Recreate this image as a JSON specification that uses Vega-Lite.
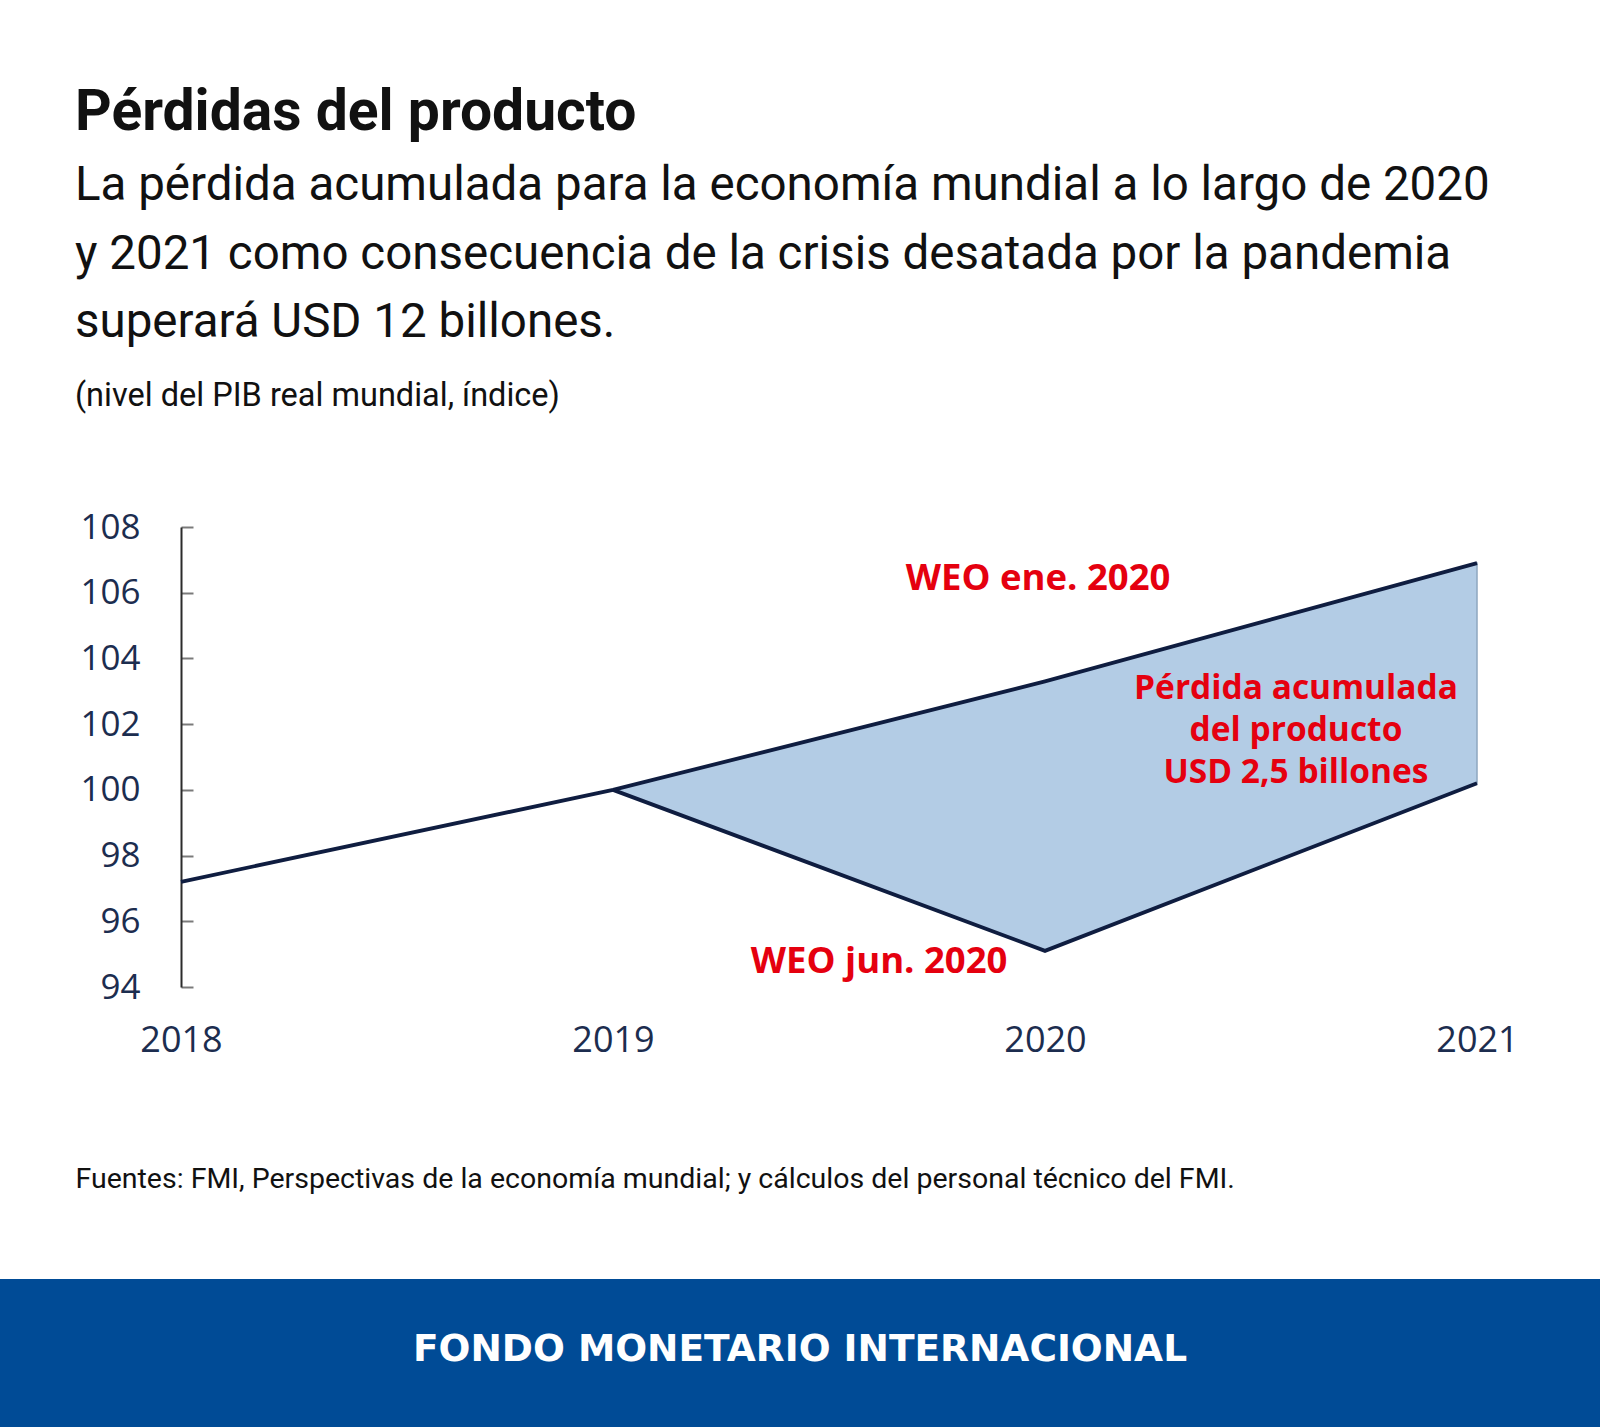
{
  "$schema": "https://vega.github.io/schema/vega-lite/v6.json",
  "background": "white",
  "padding": {"top": 84, "left": 0, "right": 0, "bottom": 0},
  "bounds": "flush",
  "spacing": 752,
  "datasets": {
    "indice_pib": [
      {"año": 2018, "pronostico": "ene", "indice": 97.2},
      {"año": 2019, "pronostico": "ene", "indice": 100},
      {"año": 2020, "pronostico": "ene", "indice": 103.3},
      {"año": 2021, "pronostico": "ene", "indice": 106.9},
      {"año": 2019, "pronostico": "jun", "indice": 100},
      {"año": 2020, "pronostico": "jun", "indice": 95.1},
      {"año": 2021, "pronostico": "jun", "indice": 100.2}
    ],
    "etiquetas_series": [
      {"año": 2019.984, "indice": 106.41, "texto": "WEO ene. 2020"},
      {"año": 2019.616, "indice": 94.77, "texto": "WEO jun. 2020"}
    ],
    "etiqueta_perdida": [
      {"año": 2020.581, "indice": 103.06, "texto": "Pérdida acumulada\ndel producto\nUSD 2,5 billones"}
    ],
    "pie": [
      {"organismo": "FONDO MONETARIO INTERNACIONAL"}
    ]
  },
  "title": {
    "text": "Pérdidas del producto",
    "subtitle": [
      "La pérdida acumulada para la economía mundial a lo largo de 2020",
      "y 2021 como consecuencia de la crisis desatada por la pandemia",
      "superará USD 12 billones."
    ],
    "anchor": "start",
    "frame": "group",
    "dx": 75,
    "offset": 31.5,
    "font": "Roboto",
    "fontSize": 57,
    "fontWeight": "bold",
    "color": "#111111",
    "subtitleFont": "Roboto",
    "subtitleFontSize": 47.5,
    "subtitleFontWeight": "normal",
    "subtitleColor": "#111111",
    "subtitleLineHeight": 68.7,
    "subtitlePadding": 20
  },
  "vconcat": [
    {
      "bounds": "flush",
      "spacing": 0,
      "hconcat": [
        {
          "width": 181,
          "height": 460,
          "data": {"values": []},
          "mark": {"type": "point", "opacity": 0},
          "view": {"stroke": null}
        },
        {
          "width": 1296,
          "height": 460,
          "title": {
            "text": "(nivel del PIB real mundial, índice)",
            "anchor": "start",
            "frame": "group",
            "dx": -106,
            "offset": 98,
            "font": "Roboto",
            "fontSize": 32.5,
            "fontWeight": "normal",
            "color": "#111111"
          },
          "view": {"stroke": null},
          "layer": [
            {
              "data": {"name": "indice_pib"},
              "transform": [
                {"pivot": "pronostico", "value": "indice", "groupby": ["año"]},
                {"filter": "isValid(datum.jun)"}
              ],
              "mark": {"type": "area", "color": "#b3cce5", "opacity": 1, "stroke": "#8ea6c0", "strokeWidth": 1.5},
              "encoding": {
                "x": {"field": "año", "type": "quantitative"},
                "y": {"field": "ene", "type": "quantitative"},
                "y2": {"field": "jun"}
              }
            },
            {
              "mark": {"type": "rule", "color": "#888888", "strokeWidth": 2.5, "opacity": 0.45},
              "encoding": {
                "y": {"datum": 100, "type": "quantitative"},
                "x": {"datum": 2018, "type": "quantitative"},
                "x2": {"datum": 2021}
              }
            },
            {
              "data": {"name": "indice_pib"},
              "mark": {"type": "line", "color": "#0f1d40", "strokeWidth": 3.8},
              "encoding": {
                "x": {
                  "field": "año",
                  "type": "quantitative",
                  "scale": {"domain": [2018, 2021], "nice": false, "zero": false},
                  "axis": {
                    "values": [2018, 2019, 2020, 2021],
                    "format": "d",
                    "domain": false,
                    "ticks": false,
                    "grid": false,
                    "labelFlush": false,
                    "labelOverlap": false,
                    "labelFont": "Open Sans",
                    "labelFontSize": 36,
                    "labelColor": "#1c2d4f",
                    "labelPadding": 36,
                    "title": "Fuentes: FMI, Perspectivas de la economía mundial; y cálculos del personal técnico del FMI.",
                    "titleFont": "Roboto",
                    "titleFontSize": 28.5,
                    "titleFontWeight": "normal",
                    "titleColor": "#111111",
                    "titleAnchor": "start",
                    "titleAlign": "left",
                    "titleBaseline": "alphabetic",
                    "titleX": -106,
                    "titleY": 200
                  }
                },
                "y": {
                  "field": "indice",
                  "type": "quantitative",
                  "scale": {"domain": [94, 108], "nice": false, "zero": false},
                  "axis": {
                    "values": [94, 96, 98, 100, 102, 104, 106, 108],
                    "title": null,
                    "grid": false,
                    "domainColor": "#2b2b2b",
                    "domainWidth": 2,
                    "tickColor": "#7a7a7a",
                    "tickWidth": 2,
                    "tickSize": -12,
                    "labelFlush": false,
                    "labelFont": "Open Sans",
                    "labelFontSize": 35,
                    "labelColor": "#1c2d4f",
                    "labelPadding": 53
                  }
                },
                "detail": {"field": "pronostico", "type": "nominal"}
              }
            },
            {
              "data": {"name": "etiquetas_series"},
              "mark": {
                "type": "text",
                "color": "#e5000f",
                "font": "Open Sans",
                "fontWeight": "bold",
                "fontSize": 36.5,
                "align": "center",
                "baseline": "middle"
              },
              "encoding": {
                "x": {"field": "año", "type": "quantitative"},
                "y": {"field": "indice", "type": "quantitative"},
                "text": {"field": "texto", "type": "nominal"}
              }
            },
            {
              "data": {"name": "etiqueta_perdida"},
              "mark": {
                "type": "text",
                "color": "#e5000f",
                "font": "Open Sans",
                "fontWeight": "bold",
                "fontSize": 33.5,
                "lineBreak": "\n",
                "lineHeight": 42,
                "align": "center",
                "baseline": "middle"
              },
              "encoding": {
                "x": {"field": "año", "type": "quantitative"},
                "y": {"field": "indice", "type": "quantitative"},
                "text": {"field": "texto", "type": "nominal"}
              }
            }
          ]
        }
      ]
    },
    {
      "width": 1600,
      "height": 148,
      "view": {"fill": "#004b96", "stroke": null},
      "data": {"name": "pie"},
      "mark": {
        "type": "text",
        "color": "white",
        "font": "DejaVu Sans",
        "fontWeight": "bold",
        "fontSize": 37.5,
        "baseline": "middle",
        "dy": -3
      },
      "encoding": {
        "text": {"field": "organismo", "type": "nominal"}
      }
    }
  ]
}
